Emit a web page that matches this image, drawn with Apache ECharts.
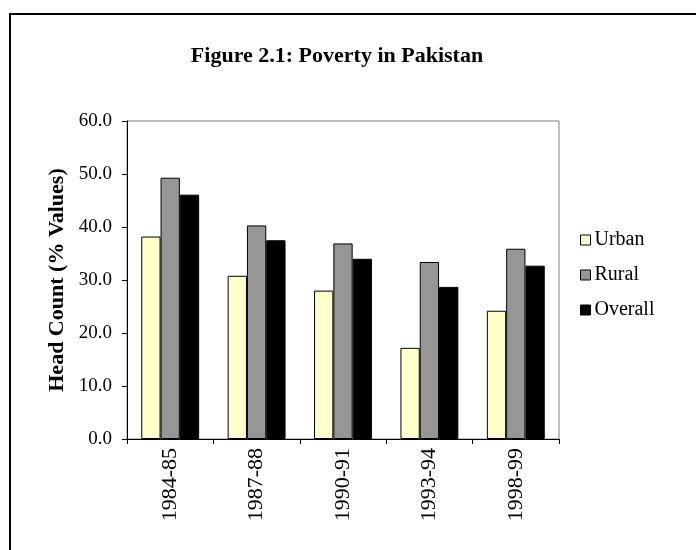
<!DOCTYPE html>
<html>
<head>
<meta charset="utf-8">
<script src="https://cdn.jsdelivr.net/npm/echarts@6/dist/echarts.min.js"></script>
<style>
html,body{margin:0;padding:0;background:#fff;}
#chart{width:696px;height:550px;}
</style>
</head>
<body>
<div id="chart"></div>
<script>
var categories = ['1984-85', '1987-88', '1990-91', '1993-94', '1998-99'];
var urban = [38.2, 30.8, 28.0, 17.2, 24.2];
var rural = [49.3, 40.3, 36.9, 33.4, 35.9];
var overall = [46.1, 37.5, 34.0, 28.7, 32.7];
var seriesNames = ['Urban', 'Rural', 'Overall'];
var seriesColors = ['#FFFFCC', '#969696', '#000000'];

var FONT = '"Liberation Serif", "Times New Roman", serif';
var chart = echarts.init(document.getElementById('chart'), null, {renderer: 'canvas'});
var dataSets = [urban, rural, overall];
var series = dataSets.map(function (d, i) {
  return {
    name: seriesNames[i],
    type: 'bar',
    data: d,
    barGap: '0%',
    barCategoryGap: '33%',
    itemStyle: {color: seriesColors[i], borderColor: '#000', borderWidth: 1},
    emphasis: {disabled: true},
    animation: false
  };
});

chart.setOption({
  animation: false,
  backgroundColor: '#fff',
  graphic: [{
    type: 'rect',
    shape: {x: 10, y: 14, width: 720, height: 600},
    style: {fill: 'none', stroke: '#000', lineWidth: 2},
    z: -1
  }],
  title: {
    text: 'Figure 2.1: Poverty in Pakistan',
    left: 337, top: 45, textAlign: 'center', padding: 0,
    textStyle: {fontFamily: FONT, fontWeight: 'bold', fontSize: 22, color: '#000'}
  },
  legend: {
    orient: 'vertical',
    left: 580, top: 229,
    padding: 0,
    itemWidth: 10, itemHeight: 10,
    itemGap: 13,
    icon: 'rect',
    textStyle: {fontFamily: FONT, fontSize: 20, color: '#000', padding: [0, 0, 0, -1], lineHeight: 22},
    data: seriesNames.map(function (n) {
      return {name: n, itemStyle: {borderColor: '#000', borderWidth: 1}};
    })
  },
  grid: {
    left: 127, right: 137, top: 121, bottom: 111,
    show: true, borderColor: '#808080', borderWidth: 1, backgroundColor: 'transparent'
  },
  xAxis: {
    type: 'category',
    data: categories,
    axisLine: {lineStyle: {color: '#000', width: 1}},
    axisTick: {show: true, alignWithLabel: false, length: 5, inside: false, lineStyle: {color: '#000'}},
    axisLabel: {rotate: 90, fontFamily: FONT, fontSize: 22, color: '#000', margin: 9},
    splitLine: {show: false}
  },
  yAxis: {
    type: 'value',
    min: 0, max: 60, interval: 10,
    name: 'Head Count (% Values)',
    nameLocation: 'middle',
    nameGap: 52,
    nameTextStyle: {fontFamily: FONT, fontWeight: 'bold', fontSize: 22, color: '#000'},
    axisLine: {show: true, lineStyle: {color: '#000', width: 1}},
    axisTick: {show: true, length: 5, lineStyle: {color: '#000'}},
    axisLabel: {fontFamily: FONT, fontSize: 19, color: '#000', margin: 15,
      formatter: function (v) { return v.toFixed(1); }},
    splitLine: {show: false}
  },
  series: series
});
</script>
</body>
</html>
